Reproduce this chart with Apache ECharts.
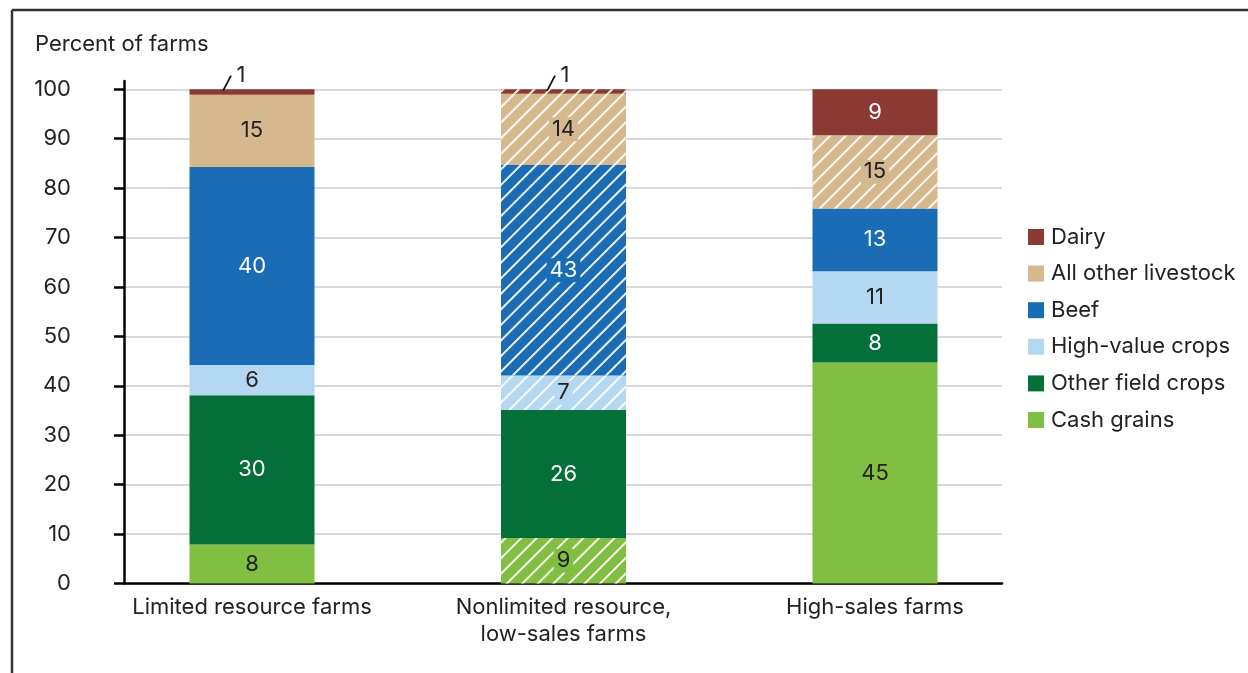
<!DOCTYPE html>
<html>
<head>
<meta charset="utf-8">
<script src="https://cdn.jsdelivr.net/npm/echarts@6/dist/echarts.min.js"></script>
<style>html,body{margin:0;padding:0;background:#fff;}#chart{width:1248px;height:673px;}</style>
</head>
<body>
<div id="chart"></div>
<script>
// ---- data ----
const categories = ['Limited resource farms', 'Nonlimited resource,\nlow-sales farms', 'High-sales farms'];
const yTicks = [0, 10, 20, 30, 40, 50, 60, 70, 80, 90, 100];
const cashGrains        = [7.9, 9.2, 44.7];
const otherFieldCrops   = [30.2, 25.9, 7.9];
const highValueCrops    = [6.1, 7.0, 10.6];
const beef              = [40.1, 42.6, 12.7];
const allOtherLivestock = [14.6, 14.4, 14.8];
const dairy             = [1.1, 0.9, 9.3];
const seriesNames = ['Cash grains', 'Other field crops', 'High-value crops', 'Beef', 'All other livestock', 'Dairy'];

// ---- styles ----
const FONT = 'Inter';
const FS = 22;
const TXT = '#222222';
const colors = {
  'Cash grains': '#80bf42',
  'Other field crops': '#056f3a',
  'High-value crops': '#b4d8f1',
  'Beef': '#1a6db5',
  'All other livestock': '#d6b88e',
  'Dairy': '#8a3a33'
};
const labelColors = {
  'Cash grains': TXT, 'Other field crops': '#fff', 'High-value crops': TXT,
  'Beef': '#fff', 'All other livestock': TXT, 'Dairy': '#fff'
};
// which bars are hatched, per series (style flags)
const hatched = {
  'Cash grains': [false, true, false],
  'Other field crops': [false, false, false],
  'High-value crops': [false, true, false],
  'Beef': [false, true, false],
  'All other livestock': [false, true, true],
  'Dairy': [false, true, false]
};
const decal = {
  symbol: 'rect', symbolSize: 1, dashArrayX: [1, 0], dashArrayY: [1.6, 9],
  rotation: -Math.PI / 4, color: 'rgba(255,255,255,0.9)'
};
const smallLabelOffsets = [[-11, 0], [1.5, 0], null];

const valuesBySeries = {
  'Cash grains': cashGrains, 'Other field crops': otherFieldCrops, 'High-value crops': highValueCrops,
  'Beef': beef, 'All other livestock': allOtherLivestock, 'Dairy': dairy
};

const GT = 89.3, GB = 673 - 583.5;

const series = seriesNames.map(function (name) {
  const vals = valuesBySeries[name];
  return {
    name: name, type: 'bar', stack: 'total', barWidth: 125,
    xAxisIndex: 0, yAxisIndex: 0,
    itemStyle: { color: colors[name] },
    emphasis: { disabled: true },
    data: vals.map(function (v, i) {
      const item = { value: v };
      const h = hatched[name][i];
      const isSmall = name === 'Dairy' && smallLabelOffsets[i];
      if (h) item.itemStyle = { decal: decal };
      item.label = {
        show: true,
        position: isSmall ? 'top' : 'inside',
        offset: isSmall ? smallLabelOffsets[i] : [0, 0],
        distance: 3,
        color: isSmall ? TXT : labelColors[name],
        fontFamily: FONT, fontSize: FS,
        backgroundColor: (h && !isSmall) ? colors[name] : 'transparent',
        padding: (h && !isSmall) ? [1, 3] : 0,
        formatter: function (p) { return String(Math.round(p.value)); }
      };
      return item;
    })
  };
});

const option = {
  animation: false,
  textStyle: { fontFamily: FONT },
  title: {
    text: 'Percent of farms', left: 30, top: 28,
    textStyle: { fontFamily: FONT, fontSize: FS, fontWeight: 'normal', color: TXT }
  },
  legend: {
    orient: 'vertical', left: 1023, top: 221,
    itemWidth: 16, itemHeight: 16, itemGap: 14.6, icon: 'rect',
    selectedMode: false,
    data: seriesNames.slice().reverse(),
    textStyle: { fontFamily: FONT, fontSize: FS, color: TXT, padding: [0, 0, 0, 2] }
  },
  grid: [
    { left: 96.25, right: 217.25, top: GT, bottom: GB },
    { left: 124, right: 246, top: GT, bottom: GB },
    { left: 124, right: 246, top: 81, bottom: GB }
  ],
  xAxis: [
    {
      gridIndex: 0, type: 'category', data: categories,
      axisLine: { show: false }, axisTick: { show: false },
      axisLabel: { margin: 10, fontFamily: FONT, fontSize: FS, lineHeight: 27, color: TXT, interval: 0 }
    },
    {
      gridIndex: 1, type: 'category', data: categories, boundaryGap: true,
      axisLine: { show: true, lineStyle: { color: '#000', width: 2.5 } },
      axisTick: { show: false }, axisLabel: { show: false }
    },
    {
      gridIndex: 2, type: 'category', data: categories, show: false
    }
  ],
  yAxis: [
    { gridIndex: 0, type: 'value', min: 0, max: 100, show: false },
    {
      gridIndex: 1, type: 'value', min: yTicks[0], max: yTicks[yTicks.length - 1], interval: 10,
      axisLine: { show: false },
      axisTick: { show: true, length: 10, lineStyle: { color: '#000', width: 2.5 } },
      splitLine: { show: true, lineStyle: { color: '#cccccc', width: 1.5 } },
      axisLabel: { margin: 53, fontFamily: FONT, fontSize: FS, color: TXT }
    },
    {
      gridIndex: 2, type: 'value', min: 0, max: 101.6,
      axisLine: { show: true, lineStyle: { color: '#000', width: 2.5 } },
      axisTick: { show: false }, axisLabel: { show: false }, splitLine: { show: false }
    }
  ],
  series: series
};

const chart = echarts.init(document.getElementById('chart'), null, { renderer: 'canvas' });
chart.setOption(option);

// frame + leader lines for the small dairy labels
const graphics = [
  { type: 'line', shape: { x1: 12, y1: 10, x2: 1248, y2: 10 }, style: { stroke: '#333', lineWidth: 2.5 }, z: 100 },
  { type: 'line', shape: { x1: 12, y1: 10, x2: 12, y2: 673 }, style: { stroke: '#333', lineWidth: 2.5 }, z: 100 }
];
smallLabelOffsets.forEach(function (off, i) {
  if (!off) return;
  const p = chart.convertToPixel({ gridIndex: 0 }, [i, 100]);
  const ex = p[0] + off[0] - 10, ey = p[1] - 13.6;
  graphics.push({
    type: 'line', shape: { x1: ex - 8, y1: p[1] + 1.5, x2: ex, y2: ey },
    style: { stroke: '#111', lineWidth: 1.8 }, z: 100
  });
});
chart.setOption({ graphic: graphics });
</script>
</body>
</html>
